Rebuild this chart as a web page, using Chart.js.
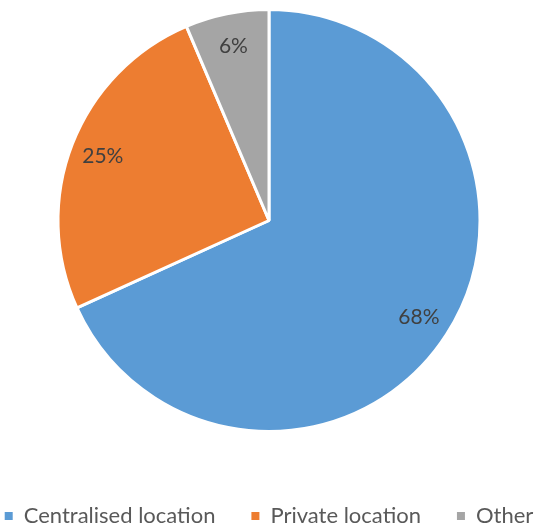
<!DOCTYPE html>
<html>
<head>
<meta charset="utf-8">
<script src="https://cdn.jsdelivr.net/npm/chart.js@4/dist/chart.umd.min.js"></script>
<style>
  html, body { margin: 0; padding: 0; background: #fff; overflow: hidden; }
  #wrap { width: 538px; height: 537px; }
</style>
</head>
<body>
<div id="wrap"><canvas id="chart"></canvas></div>
<script>
const categories = ['Centralised location', 'Private location', 'Other'];
const shares = [68.2, 25.4, 6.4];
const colours = ['#5b9bd5', '#ed7d31', '#a5a5a5'];

const fontFamily = 'Lato, "Open Sans", "Liberation Sans", sans-serif';

// percentage labels placed out towards the rim, like Excel's "best fit"
const sliceLabels = {
    id: 'sliceLabels',
    afterDatasetsDraw: (chart) => {
        const ctx = chart.ctx;
        const meta = chart.getDatasetMeta(0);
        const total = shares.reduce((a, b) => a + b, 0);
        ctx.save();
        ctx.font = '21px ' + fontFamily;
        ctx.fillStyle = '#404040';
        ctx.textAlign = 'center';
        ctx.textBaseline = 'middle';
        meta.data.forEach((arc, i) => {
            const p = arc.getProps(['x', 'y', 'startAngle', 'endAngle', 'outerRadius'], true);
            const mid = (p.startAngle + p.endAngle) / 2;
            const r = p.outerRadius * 0.845;
            const text = Math.round(shares[i] / total * 100) + '%';
            ctx.fillText(text, p.x + Math.cos(mid) * r, p.y + Math.sin(mid) * r);
        });
        ctx.restore();
    }
};

new Chart(document.getElementById('chart'), {
    type: 'pie',
    data: {
        labels: categories,
        datasets: [{
            data: shares,
            backgroundColor: colours,
            borderColor: '#ffffff',
            borderWidth: 3,
            radius: 211
        }]
    },
    options: {
        responsive: true,
        maintainAspectRatio: false,
        animation: false,
        layout: { padding: { top: 0, left: -40, right: -40, bottom: 0 } },
        plugins: {
            tooltip: { enabled: false },
            legend: {
                position: 'bottom',
                // empty title only used as a spacer above the legend row
                title: { display: true, text: '', font: { size: 10 }, padding: { top: 16, bottom: 0 } },
                labels: {
                    boxWidth: 8,
                    boxHeight: 8,
                    padding: 36,
                    color: '#595959',
                    font: { family: fontFamily, size: 22 },
                    generateLabels: (chart) => {
                        const items = Chart.overrides.pie.plugins.legend.labels.generateLabels(chart);
                        items.forEach((item) => { item.lineWidth = 0; item.strokeStyle = item.fillStyle; });
                        return items;
                    }
                }
            }
        }
    },
    plugins: [sliceLabels]
});
</script>
</body>
</html>
